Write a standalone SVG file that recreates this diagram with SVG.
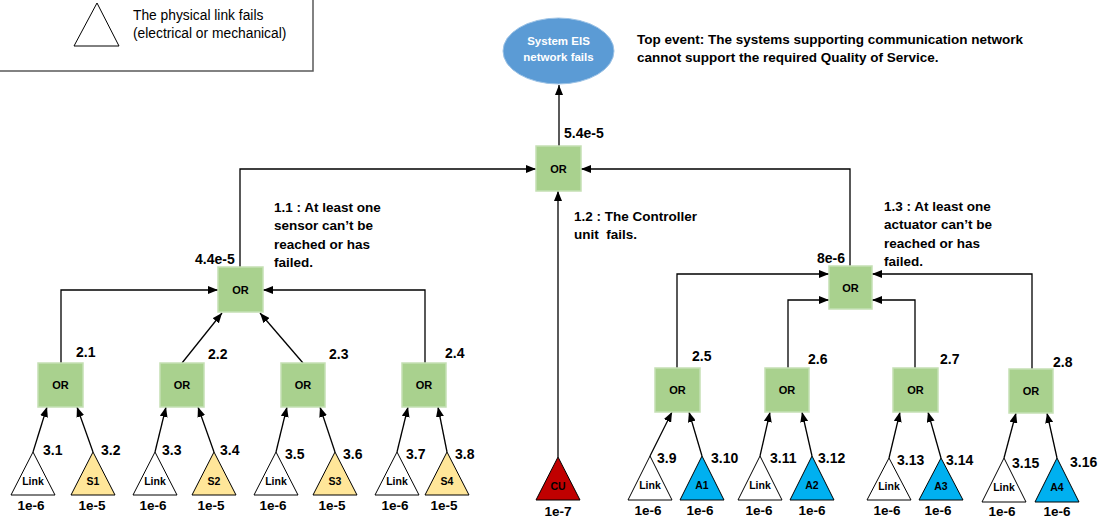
<svg xmlns="http://www.w3.org/2000/svg" width="1107" height="517" viewBox="0 0 1107 517">
<style>
text{font-family:"Liberation Sans",Arial,sans-serif;fill:#000}
.b{font-weight:bold}
.num{font-weight:bold;font-size:14px}
.val{font-weight:bold;font-size:13.5px;text-anchor:middle}
.desc{font-weight:bold;font-size:13.5px}
.gate rect{fill:#A9D18E;stroke:#C5E0B4;stroke-width:1.5}
.gate text{font-weight:bold;font-size:11px;text-anchor:middle;dominant-baseline:central}
.tri polygon{stroke:#000;stroke-width:1}
.tri text{font-weight:bold;font-size:10.5px;text-anchor:middle;dominant-baseline:central}
.link polygon{fill:#fff}
.s polygon{fill:#FFE699}
.a polygon{fill:#00B0F0}
.cu polygon{fill:#C00000}
.conn{fill:none;stroke:#000;stroke-width:1.3}
</style>
<defs>
<marker id="arr" markerUnits="userSpaceOnUse" markerWidth="10" markerHeight="8" refX="10" refY="4" orient="auto">
<path d="M0,0 L10,4 L0,8 z" fill="#000"/>
</marker>
</defs>

<g id="legend">
<rect x="-2" y="-2" width="315" height="73" fill="#fff" stroke="#595959" stroke-width="1.5"/>
<polygon points="97,3 119,46 74,46" fill="#fff" stroke="#000" stroke-width="1"/>
<text x="133" y="20" font-size="13.8">The physical link fails</text>
<text x="133" y="38" font-size="13.8">(electrical or mechanical)</text>
</g>

<g id="top-event">
<ellipse cx="558.5" cy="51" rx="55.5" ry="33" fill="#5B9BD5" stroke="#9DC3E6" stroke-width="1"/>
<text x="558.5" y="41" class="b" font-size="11.5" text-anchor="middle" dominant-baseline="central" style="fill:#fff">System EIS</text>
<text x="558.5" y="57" class="b" font-size="11.5" text-anchor="middle" dominant-baseline="central" style="fill:#fff">network fails</text>
</g>
<g id="top-desc">
<text x="637" y="44" class="desc">Top event: The systems supporting communication network</text>
<text x="637" y="62" class="desc">cannot support the required Quality of Service.</text>
</g>

<g id="connectors">
<path class="conn" d="M559,146 V85" marker-end="url(#arr)"/>
<path class="conn" d="M240,267 V169 H536" marker-end="url(#arr)"/>
<path class="conn" d="M850,266 V169 H581" marker-end="url(#arr)"/>
<path class="conn" d="M558,457 V191" marker-end="url(#arr)"/>

<path class="conn" d="M61,363 V290 H218" marker-end="url(#arr)"/>
<path class="conn" d="M182,363 L222,313" marker-end="url(#arr)"/>
<path class="conn" d="M303,363 L260,313" marker-end="url(#arr)"/>
<path class="conn" d="M425,363 V290 H263" marker-end="url(#arr)"/>

<path class="conn" d="M33,452 L47,407" marker-end="url(#arr)"/>
<path class="conn" d="M93,452 L77,407" marker-end="url(#arr)"/>
<path class="conn" d="M155,452 L166,407" marker-end="url(#arr)"/>
<path class="conn" d="M214,452 L198,407" marker-end="url(#arr)"/>
<path class="conn" d="M276,452 L287,407" marker-end="url(#arr)"/>
<path class="conn" d="M335,452 L320,407" marker-end="url(#arr)"/>
<path class="conn" d="M397,452 L408,407" marker-end="url(#arr)"/>
<path class="conn" d="M447,452 L438,407" marker-end="url(#arr)"/>

<path class="conn" d="M677,368 V274 H829" marker-end="url(#arr)"/>
<path class="conn" d="M788,368 V300 H829" marker-end="url(#arr)"/>
<path class="conn" d="M915,368 V300 H872" marker-end="url(#arr)"/>
<path class="conn" d="M1032,369 V274 H872" marker-end="url(#arr)"/>

<path class="conn" d="M650,456 L672,412" marker-end="url(#arr)"/>
<path class="conn" d="M702,456 L689,412" marker-end="url(#arr)"/>
<path class="conn" d="M760,456 L770,412" marker-end="url(#arr)"/>
<path class="conn" d="M812,456 L802,412" marker-end="url(#arr)"/>
<path class="conn" d="M889,458 L900,412" marker-end="url(#arr)"/>
<path class="conn" d="M941,458 L928,412" marker-end="url(#arr)"/>
<path class="conn" d="M1004,458 L1016,413" marker-end="url(#arr)"/>
<path class="conn" d="M1057,458 L1047,413" marker-end="url(#arr)"/>
</g>

<g id="or-top" class="gate"><rect x="536" y="146" width="45" height="45"/><text x="558.5" y="168.5">OR</text></g>
<text x="564" y="138" class="num">5.4e-5</text>

<g id="or-1-1" class="gate"><rect x="218" y="267" width="45" height="45"/><text x="240.5" y="289.5">OR</text></g>
<text x="195" y="264" class="num">4.4e-5</text>
<g id="desc-1-1">
<text x="274" y="212" class="desc">1.1 : At least one</text>
<text x="274" y="230" class="desc">sensor can’t be</text>
<text x="274" y="249" class="desc">reached or has</text>
<text x="274" y="267" class="desc">failed.</text>
</g>

<g id="desc-1-2">
<text x="574" y="221" class="desc">1.2 : The Controller</text>
<text x="574" y="239" class="desc" xml:space="preserve">unit  fails.</text>
</g>

<g id="or-1-3" class="gate"><rect x="829" y="266" width="43" height="43"/><text x="850.5" y="287.5">OR</text></g>
<text x="817" y="263" class="num">8e-6</text>
<g id="desc-1-3">
<text x="884" y="211" class="desc">1.3 : At least one</text>
<text x="884" y="229" class="desc">actuator can’t be</text>
<text x="884" y="248" class="desc">reached or has</text>
<text x="884" y="266" class="desc">failed.</text>
</g>

<!-- left level 2 -->
<g id="or-2-1" class="gate"><rect x="38" y="363" width="45" height="44"/><text x="60.5" y="385">OR</text></g>
<text x="76" y="357" class="num">2.1</text>
<g id="or-2-2" class="gate"><rect x="160" y="363" width="44" height="44"/><text x="182" y="385">OR</text></g>
<text x="208" y="359" class="num">2.2</text>
<g id="or-2-3" class="gate"><rect x="281" y="363" width="44" height="44"/><text x="303" y="385">OR</text></g>
<text x="329" y="359" class="num">2.3</text>
<g id="or-2-4" class="gate"><rect x="402" y="363" width="44" height="44"/><text x="424" y="385">OR</text></g>
<text x="445" y="358" class="num">2.4</text>

<!-- right level 2 -->
<g id="or-2-5" class="gate"><rect x="655" y="368" width="45" height="44"/><text x="677.5" y="390">OR</text></g>
<text x="692" y="361" class="num">2.5</text>
<g id="or-2-6" class="gate"><rect x="765" y="368" width="44" height="44"/><text x="787" y="390">OR</text></g>
<text x="808" y="364" class="num">2.6</text>
<g id="or-2-7" class="gate"><rect x="893" y="368" width="45" height="44"/><text x="915.5" y="390">OR</text></g>
<text x="940" y="364" class="num">2.7</text>
<g id="or-2-8" class="gate"><rect x="1009" y="369" width="44" height="44"/><text x="1031" y="391">OR</text></g>
<text x="1053" y="367" class="num">2.8</text>

<!-- left basic events -->
<g id="e-3-1" class="tri link"><polygon points="33,452 55,495 11,495"/><text x="33" y="481">Link</text></g>
<text x="43" y="455" class="num">3.1</text><text x="31" y="510" class="val">1e-6</text>
<g id="e-3-2" class="tri s"><polygon points="93,452 115,495 71,495"/><text x="93" y="481">S1</text></g>
<text x="101" y="455" class="num">3.2</text><text x="92" y="510" class="val">1e-5</text>

<g id="e-3-3" class="tri link"><polygon points="155,452 177,495 133,495"/><text x="155" y="481">Link</text></g>
<text x="162" y="455" class="num">3.3</text><text x="153" y="510" class="val">1e-6</text>
<g id="e-3-4" class="tri s"><polygon points="214,452 236,495 192,495"/><text x="214" y="481">S2</text></g>
<text x="220" y="455" class="num">3.4</text><text x="211" y="510" class="val">1e-5</text>

<g id="e-3-5" class="tri link"><polygon points="276,452 298,495 254,495"/><text x="276" y="481">Link</text></g>
<text x="285" y="459" class="num">3.5</text><text x="273" y="510" class="val">1e-6</text>
<g id="e-3-6" class="tri s"><polygon points="335,452 357,495 313,495"/><text x="335" y="481">S3</text></g>
<text x="343" y="459" class="num">3.6</text><text x="332" y="510" class="val">1e-5</text>

<g id="e-3-7" class="tri link"><polygon points="397,452 419,495 375,495"/><text x="397" y="481">Link</text></g>
<text x="406" y="459" class="num">3.7</text><text x="395" y="510" class="val">1e-6</text>
<g id="e-3-8" class="tri s"><polygon points="447,452 469,495 425,495"/><text x="447" y="481">S4</text></g>
<text x="455" y="459" class="num">3.8</text><text x="444" y="510" class="val">1e-5</text>

<!-- CU -->
<g id="e-cu" class="tri cu"><polygon points="558,457 580,500 536,500"/><text x="558" y="486">CU</text></g>
<text x="558" y="516" class="val">1e-7</text>

<!-- right basic events -->
<g id="e-3-9" class="tri link"><polygon points="650,456 672,500 628,500"/><text x="650" y="485">Link</text></g>
<text x="657" y="463" class="num">3.9</text><text x="648" y="515" class="val">1e-6</text>
<g id="e-3-10" class="tri a"><polygon points="702,456 724,500 680,500"/><text x="702" y="485">A1</text></g>
<text x="711" y="463" class="num">3.10</text><text x="700" y="515" class="val">1e-6</text>

<g id="e-3-11" class="tri link"><polygon points="760,456 782,500 738,500"/><text x="760" y="485">Link</text></g>
<text x="770" y="463" class="num">3.11</text><text x="759" y="515" class="val">1e-6</text>
<g id="e-3-12" class="tri a"><polygon points="812,456 834,500 790,500"/><text x="812" y="485">A2</text></g>
<text x="818" y="463" class="num">3.12</text><text x="812" y="515" class="val">1e-6</text>

<g id="e-3-13" class="tri link"><polygon points="889,458 911,500 867,500"/><text x="889" y="486">Link</text></g>
<text x="897" y="465" class="num">3.13</text><text x="887" y="515" class="val">1e-6</text>
<g id="e-3-14" class="tri a"><polygon points="941,458 963,500 919,500"/><text x="941" y="486">A3</text></g>
<text x="946" y="465" class="num">3.14</text><text x="938" y="515" class="val">1e-6</text>

<g id="e-3-15" class="tri link"><polygon points="1004,458 1026,502 982,502"/><text x="1004" y="487">Link</text></g>
<text x="1012" y="468" class="num">3.15</text><text x="1002" y="516" class="val">1e-6</text>
<g id="e-3-16" class="tri a"><polygon points="1057,458 1079,502 1035,502"/><text x="1057" y="487">A4</text></g>
<text x="1070" y="467" class="num">3.16</text><text x="1057" y="516" class="val">1e-6</text>
</svg>
